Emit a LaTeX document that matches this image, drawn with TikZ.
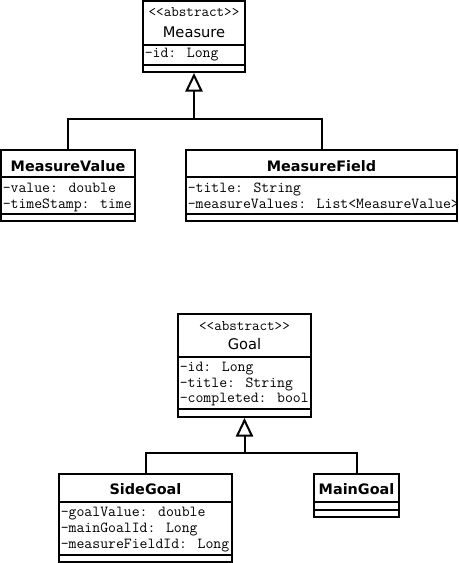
\documentclass[tikz,border=0pt]{standalone}
\usepackage{fontspec}
\setmainfont{DejaVu Sans}
\usetikzlibrary{arrows.meta}
\begin{document}
\begin{tikzpicture}[x=0.75pt,y=-0.75pt,
  umlbox/.style={draw=black,line width=1.5pt,fill=white,inner sep=0pt},
  divider/.style={line width=1.5pt},
  conn/.style={line width=1.5pt},
  inh/.style={-{Triangle[open,length=14pt,width=13pt]}},
  attr/.style={anchor=base west,inner sep=0pt,font=\ttfamily\fontsize{11.5}{13}\selectfont},
  stereo/.style={anchor=base,inner sep=0pt,font=\ttfamily\fontsize{11}{13}\selectfont},
  cname/.style={anchor=base,inner sep=0pt,font=\fontsize{10.8}{12}\selectfont\bfseries},
  aname/.style={anchor=base,inner sep=0pt,font=\fontsize{11}{13}\selectfont}
]
\useasboundingbox (0,0) rectangle (459,563);

% ---------- Measure ----------
\node[umlbox,minimum width={102*0.75pt},minimum height={71*0.75pt}] (measure) at (194,36.5) {};
\draw[divider] (measure.west |- 0,45) -- (measure.east |- 0,45);
\draw[divider] (measure.west |- 0,65) -- (measure.east |- 0,65);
\node[stereo] (measureS) at (194,17) {<{}<abstract>{}>};
\node[aname] (measureN) at (194,37.5) {Measure};
\node[attr] (measureA1) at (144.5,57.5) {-id: Long};

% ---------- MeasureValue ----------
\node[umlbox,minimum width={134*0.75pt},minimum height={71*0.75pt}] (mv) at (68,185.5) {};
\draw[divider] (mv.west |- 0,177) -- (mv.east |- 0,177);
\draw[divider] (mv.west |- 0,214) -- (mv.east |- 0,214);
\node[cname] (mvN) at (68,171.5) {MeasureValue};
\node[attr] (mvA1) at (2.5,192) {-value: double};
\node[attr] (mvA2) at (2.5,208) {-timeStamp: time};

% ---------- MeasureField ----------
\node[umlbox,minimum width={271*0.75pt},minimum height={71*0.75pt}] (mf) at (321.5,185.5) {};
\draw[divider] (mf.west |- 0,177) -- (mf.east |- 0,177);
\draw[divider] (mf.west |- 0,214) -- (mf.east |- 0,214);
\node[cname] (mfN) at (321.5,171.5) {MeasureField};
\begin{scope}
  \clip (187,151) rectangle (456,213);
  \node[attr] (mfA1) at (187.5,192) {-title: String};
  \node[attr] (mfA2) at (187.5,208) {-measureValues: List<MeasureValue>};
\end{scope}

% ---------- connectors (top) ----------
\coordinate (j1) at (194,119);
\draw[conn] (mv.north) |- (j1);
\draw[conn] (mf.north) |- (j1);
\draw[conn,inh] (j1) -- (measure.south);

% ---------- Goal ----------
\node[umlbox,minimum width={133*0.75pt},minimum height={103*0.75pt}] (goal) at (244.5,365.5) {};
\draw[divider] (goal.west |- 0,357) -- (goal.east |- 0,357);
\draw[divider] (goal.west |- 0,409) -- (goal.east |- 0,409);
\node[stereo] (goalS) at (244.5,330) {<{}<abstract>{}>};
\node[aname] (goalN) at (244.5,349.5) {Goal};
\node[attr] (goalA1) at (179.5,371.5) {-id: Long};
\node[attr] (goalA2) at (179.5,387.5) {-title: String};
\node[attr] (goalA3) at (179.5,402.5) {-completed: bool};

% ---------- SideGoal ----------
\node[umlbox,minimum width={173*0.75pt},minimum height={88*0.75pt}] (side) at (145.5,518) {};
\draw[divider] (side.west |- 0,502) -- (side.east |- 0,502);
\draw[divider] (side.west |- 0,555) -- (side.east |- 0,555);
\node[cname] (sideN) at (145.5,494) {SideGoal};
\node[attr] (sideA1) at (60.5,516.5) {-goalValue: double};
\node[attr] (sideA2) at (60.5,532.5) {-mainGoalId: Long};
\node[attr] (sideA3) at (60.5,548.5) {-measureFieldId: Long};

% ---------- MainGoal ----------
\node[umlbox,minimum width={85*0.75pt},minimum height={43*0.75pt}] (main) at (356.5,495.5) {};
\draw[divider] (main.west |- 0,502) -- (main.east |- 0,502);
\draw[divider] (main.west |- 0,509.5) -- (main.east |- 0,509.5);
\node[cname] (mainN) at (356.5,494) {MainGoal};

% ---------- connectors (bottom) ----------
\coordinate (j2) at (244.5,453);
\draw[conn] (side.north) |- (j2);
\draw[conn] (main.north) |- (j2);
\draw[conn,inh] (j2) -- (goal.south);
\end{tikzpicture}
\end{document}
